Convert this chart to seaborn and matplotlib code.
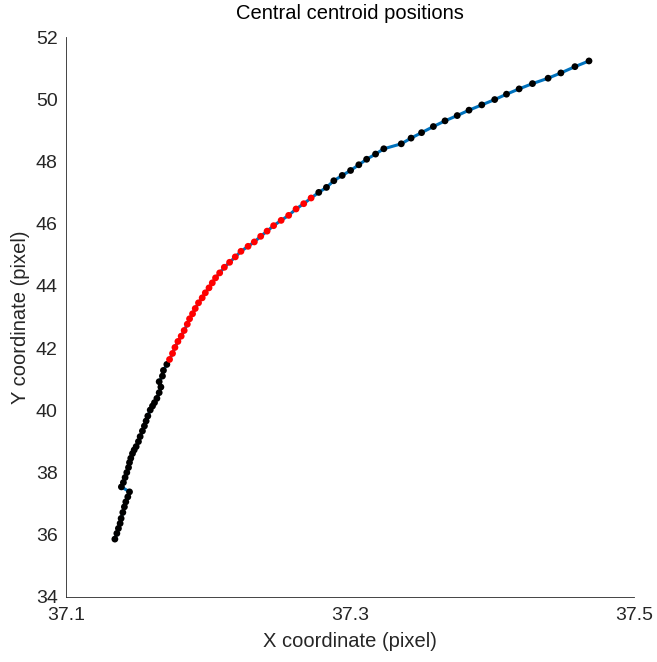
import numpy as np
import pandas as pd
import matplotlib
matplotlib.use("Agg")
import matplotlib.pyplot as plt
import seaborn as sns

x_pos = [37.1344, 37.1358, 37.1369, 37.1381, 37.1388, 37.1400, 37.1411, 37.1421, 37.1435, 37.1447,
         37.1390, 37.1404, 37.1416, 37.1428, 37.1440, 37.1447, 37.1456, 37.1468, 37.1480, 37.1494,
         37.1510, 37.1522, 37.1538, 37.1552, 37.1564, 37.1576, 37.1593, 37.1609, 37.1623, 37.1640,
         37.1656, 37.1668, 37.1656, 37.1679, 37.1686, 37.1710,
         37.1729, 37.1750, 37.1767, 37.1788, 37.1811, 37.1832, 37.1854, 37.1870, 37.1891, 37.1910,
         37.1933, 37.1959, 37.1981, 37.2007, 37.2030, 37.2053, 37.2082, 37.2115, 37.2152, 37.2192,
         37.2232, 37.2282, 37.2326, 37.2371, 37.2416, 37.2462, 37.2515, 37.2568, 37.2620, 37.2674,
         37.2726,
         37.2780, 37.2834, 37.2886, 37.2945, 37.3004, 37.3062, 37.3117, 37.3180, 37.3238, 37.3361,
         37.3430, 37.3504, 37.3587, 37.3669, 37.3755, 37.3838, 37.3928, 37.4019, 37.4102, 37.4191,
         37.4285, 37.4395, 37.4485, 37.4584, 37.4683]
y_pos = [35.861, 36.044, 36.204, 36.365, 36.525, 36.718, 36.897, 37.058, 37.218, 37.379,
         37.539, 37.680, 37.841, 38.001, 38.162, 38.322, 38.460, 38.611, 38.726, 38.835,
         38.996, 39.156, 39.336, 39.496, 39.657, 39.817, 40.010, 40.138, 40.247, 40.385,
         40.568, 40.748, 40.921, 41.101, 41.284, 41.476,
         41.636, 41.829, 42.022, 42.214, 42.384, 42.567, 42.769, 42.942, 43.103, 43.273,
         43.456, 43.616, 43.777, 43.937, 44.097, 44.258, 44.418, 44.598, 44.758, 44.932,
         45.111, 45.272, 45.413, 45.593, 45.760, 45.936, 46.106, 46.267, 46.472, 46.642,
         46.825,
         47.005, 47.165, 47.380, 47.550, 47.710, 47.893, 48.070, 48.237, 48.407, 48.567,
         48.750, 48.926, 49.122, 49.305, 49.475, 49.648, 49.818, 49.989, 50.162, 50.332,
         50.502, 50.675, 50.845, 51.047, 51.230]
highlight_first = 36   # first red frame (0-based)
highlight_last = 66    # last red frame (0-based)

x_ticks = [37.1, 37.3, 37.5]
x_tick_labels = ["37.1", "37.3", "37.5"]
y_ticks = [34, 36, 38, 40, 42, 44, 46, 48, 50, 52]

df = pd.DataFrame({"x": x_pos, "y": y_pos})
df["frame"] = np.arange(len(df))
df["group"] = np.where((df["frame"] >= highlight_first) & (df["frame"] <= highlight_last),
                       "selected", "other")

sns.set_style("white")
plt.rcParams["font.family"] = ["Liberation Sans", "DejaVu Sans"]

fig = plt.figure(figsize=(6.57, 6.62), dpi=100)
ax = fig.add_axes([0.1005, 0.0982, 0.8645, 0.8459])

sns.lineplot(data=df, x="x", y="y", sort=False, estimator=None, color="#0072BD",
             linewidth=2.2, ax=ax, zorder=1)
sns.scatterplot(data=df, x="x", y="y", hue="group",
                palette={"other": "black", "selected": "red"},
                s=24, edgecolor="none", linewidth=0, legend=False, ax=ax, zorder=2)

ax.set_xlim(37.1, 37.5)
ax.set_ylim(34, 52)
ax.set_xticks(x_ticks)
ax.set_xticklabels(x_tick_labels)
ax.set_yticks(y_ticks)
ax.tick_params(direction="in", length=5, width=0.6, colors="#262626",
               labelsize=14, pad=6)
ax.tick_params(axis="x", pad=7)
for side in ["top", "right"]:
    ax.spines[side].set_visible(False)
for side in ["left", "bottom"]:
    ax.spines[side].set_color("#262626")
    ax.spines[side].set_linewidth(0.6)

ax.set_xlabel("X coordinate (pixel)", fontsize=14.5, color="#262626", labelpad=6)
ax.set_ylabel("Y coordinate (pixel)", fontsize=14.5, color="#262626", labelpad=4)
ax.set_title("Central centroid positions", fontsize=14.5, color="black", pad=13)

fig.savefig("out.png", dpi=100)
